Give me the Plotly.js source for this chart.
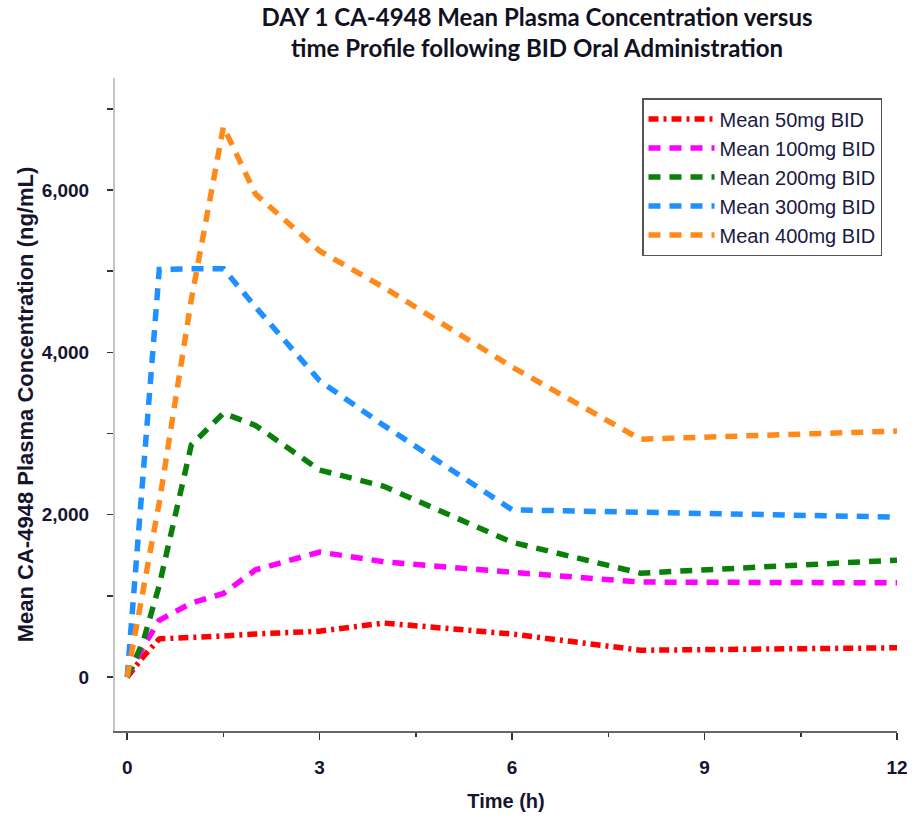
<!DOCTYPE html>
<html>
<head>
<meta charset="utf-8">
<script src="https://cdn.plot.ly/plotly-3.0.1.min.js"></script>
<style>
  html, body { margin: 0; padding: 0; background: #ffffff; }
  #chart { width: 916px; height: 818px; }
</style>
</head>
<body>
<div id="chart"></div>
<script>
// Time points (h)
var times = [0, 0.25, 0.5, 1, 1.5, 2, 3, 4, 6, 8, 12];

// Mean plasma concentrations (ng/mL)
var mean50  = [0, 250, 470, 480, 505, 530, 565, 665, 530, 330, 360];
var mean100 = [0, 370, 700, 910, 1030, 1320, 1540, 1420, 1290, 1170, 1160];
var mean200 = [0, 440, 1130, 2860, 3250, 3100, 2550, 2350, 1660, 1280, 1440];
var mean300 = [0, 2550, 5020, 5030, 5030, 4560, 3650, 3100, 2060, 2030, 1970];
var mean400 = [0, 1100, 2150, 4650, 6780, 5950, 5250, 4800, 3820, 2930, 3030];

var seriesNames = ["Mean 50mg BID", "Mean 100mg BID", "Mean 200mg BID", "Mean 300mg BID", "Mean 400mg BID"];
var seriesValues = [mean50, mean100, mean200, mean300, mean400];
var seriesColors = ["#ff0000", "#ff00ff", "#0a800a", "#1e90ff", "#ff8a1a"];
var seriesDash = ["10px,5px,3px,5px", "12px,9px", "12px,9px", "12px,9px", "12px,9px"];

var yTickVals = [0, 2000, 4000, 6000];
var xTickVals = [0, 3, 6, 9, 12];

var traces = seriesNames.map(function (name, i) {
  return {
    type: "scatter",
    mode: "lines",
    name: name,
    x: times,
    y: seriesValues[i],
    line: { color: seriesColors[i], width: 5.5, dash: seriesDash[i] },
    hoverinfo: "skip"
  };
});

var tickFont = { family: "Liberation Sans, Arial, sans-serif", size: 19, color: "#151530", weight: "bold" };

var layout = {
  width: 916,
  height: 818,
  paper_bgcolor: "#ffffff",
  plot_bgcolor: "#ffffff",
  margin: { l: 115, r: 19, t: 78, b: 87 },
  showlegend: true,
  title: {
    text: "<b>DAY 1 CA-4948 Mean Plasma Concentration versus<br>time Profile following BID Oral Administration</b>",
    font: { family: "Lato, Open Sans, sans-serif", size: 24, color: "#111122" },
    x: 537 / 916,
    xanchor: "center",
    xref: "container",
    y: 1 - 26 / 818,
    yanchor: "middle",
    yref: "container"
  },
  xaxis: {
    range: [-0.19, 12.0],
    showgrid: false,
    zeroline: false,
    showline: true,
    linecolor: "#666666",
    linewidth: 1.5,
    ticks: "outside",
    ticklen: 7,
    tickwidth: 1.5,
    tickcolor: "#333333",
    tickvals: xTickVals,
    ticktext: xTickVals.map(String),
    tickfont: tickFont,
    ticklabelstandoff: 12,
    minor: { tickvals: [1.5, 4.5, 7.5, 10.5], ticks: "outside", ticklen: 4, tickwidth: 1.5, tickcolor: "#333333", showgrid: false },
    title: {
      text: "<b>Time (h)</b>",
      font: { family: "Liberation Sans, Arial, sans-serif", size: 20, color: "#151530" },
      standoff: 16
    }
  },
  yaxis: {
    range: [-665, 7380],
    showgrid: false,
    zeroline: false,
    showline: true,
    linecolor: "#c4c4c4",
    linewidth: 2,
    ticks: "outside",
    ticklen: 6,
    tickwidth: 1.5,
    tickcolor: "#333333",
    tickvals: yTickVals,
    ticktext: yTickVals.map(function (v) { return v.toLocaleString("en-US"); }),
    tickfont: tickFont,
    ticklabelstandoff: 14,
    minor: { tickvals: [1000, 3000, 5000, 7000], ticks: "outside", ticklen: 6, tickwidth: 1.5, tickcolor: "#333333", showgrid: false },
    title: {
      text: "<b>Mean CA-4948 Plasma Concentration (ng/mL)</b>",
      font: { family: "Liberation Sans, Arial, sans-serif", size: 22, color: "#151530" },
      standoff: 2
    }
  },
  legend: {
    x: (642 - 115) / 782,
    y: (731 - 98) / 653,
    xanchor: "left",
    yanchor: "top",
    bgcolor: "#ffffff",
    bordercolor: "#555555",
    borderwidth: 1.5,
    font: { family: "Liberation Sans, Arial, sans-serif", size: 20, color: "#1a1a40" },
    itemwidth: 66
  }
};

Plotly.newPlot("chart", traces, layout, { staticPlot: true, displayModeBar: false });
</script>
</body>
</html>
